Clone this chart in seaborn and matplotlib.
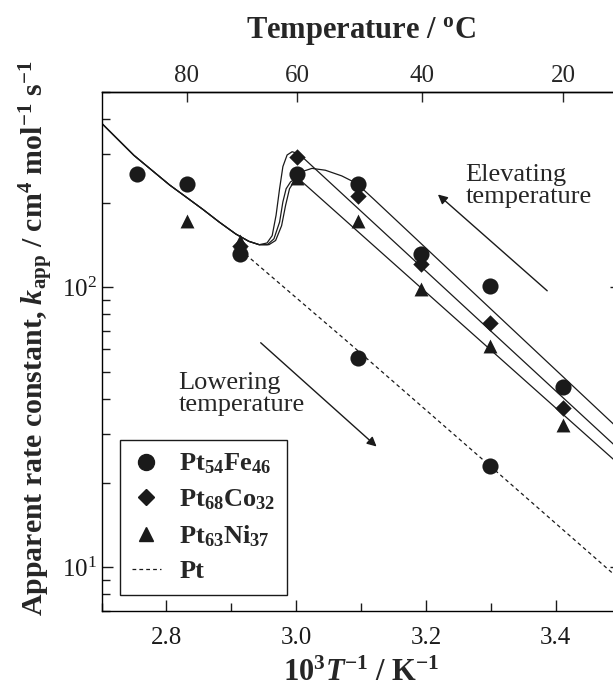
import numpy as np
import seaborn as sns
import matplotlib.pyplot as plt
from matplotlib.lines import Line2D
from matplotlib.ticker import MultipleLocator, LogLocator, LogFormatterMathtext, NullFormatter

sns.set_theme(style="ticks")
plt.rcParams['font.family'] = ['Liberation Serif', 'DejaVu Serif']
plt.rcParams['mathtext.fontset'] = 'custom'
plt.rcParams['mathtext.rm'] = 'Liberation Serif'
plt.rcParams['mathtext.it'] = 'Liberation Serif:italic'
plt.rcParams['mathtext.bf'] = 'Liberation Serif:bold'
plt.rcParams['mathtext.bfit'] = 'Liberation Serif:italic:bold'
plt.rcParams['axes.linewidth'] = 1.0
plt.rcParams['axes.edgecolor'] = 'black'

# measured points: x = 10^3/T (K^-1), k_app
fe_x = [2.754, 2.832, 2.914, 3.001, 3.095, 3.193, 3.299, 3.411, 3.095, 3.299]
fe_k = [253, 233, 131, 253, 233, 132, 101, 44.1, 56.1, 23.1]
co_x = [2.914, 3.001, 3.095, 3.193, 3.299, 3.411]
co_k = [140, 293, 212, 121, 74.4, 37.1]
ni_x = [2.832, 2.914, 3.001, 3.095, 3.193, 3.299, 3.411]
ni_k = [173, 146, 245, 173, 98.6, 61.7, 32.3]

# fitted curves
common_x = [2.70, 2.75, 2.805, 2.8305, 2.856, 2.8815, 2.907, 2.927, 2.943]
common_k = [386, 296, 232, 210, 190, 171, 155, 146, 142]
co_fit_x = common_x + [2.955, 2.963, 2.969, 2.9744, 2.9795, 2.986, 2.9937, 3.004, 3.495]
co_fit_k = common_k + [144, 153, 181, 225, 270, 297, 305, 300, 26.7]
ni_fit_x = common_x + [2.9555, 2.9657, 2.9744, 2.9795, 2.9845, 2.9913, 3.0014, 3.495]
ni_fit_k = common_k + [142, 149, 171, 202, 225, 238, 247, 23.6]
fe_fit_x = common_x + [2.958, 2.9683, 2.9775, 2.9836, 2.9897, 2.9979, 3.009, 3.0243,
                       3.0449, 3.0703, 3.0933, 3.12, 3.495]
fe_fit_k = common_k + [142, 147, 166, 196, 225, 241, 259, 266, 262, 250, 235, 206, 31.5]
pt_x = [2.914, 3.0749, 3.298, 3.495]
pt_k = [136, 65.2, 23.1, 9.2]

celsius_ticks = [80, 60, 40, 20]

fig = plt.figure(figsize=(6.13, 6.88), dpi=100)
ax = fig.add_axes([0.1656, 0.1124, 0.8469, 0.7544])

for cx, ck in [(fe_fit_x, fe_fit_k), (co_fit_x, co_fit_k), (ni_fit_x, ni_fit_k)]:
    sns.lineplot(x=cx, y=ck, ax=ax, color='k', lw=0.9, zorder=2)
sns.lineplot(x=pt_x, y=pt_k, ax=ax, color='k', lw=0.9, zorder=2)
ax.lines[-1].set_linestyle((0, (3, 2.5)))

sns.scatterplot(x=ni_x, y=ni_k, ax=ax, marker='^', s=100, color='k', linewidth=0, zorder=3)
sns.scatterplot(x=co_x, y=co_k, ax=ax, marker='D', s=70, color='k', linewidth=0, zorder=3)
sns.scatterplot(x=fe_x, y=fe_k, ax=ax, marker='o', s=135, color='k', linewidth=0, zorder=4)

ax.set_yscale('log')
ax.set_xlim(2.7, 3.5)
ax.set_ylim(7, 500)
ax.xaxis.set_major_locator(MultipleLocator(0.2))
ax.xaxis.set_minor_locator(MultipleLocator(0.1))
ax.yaxis.set_major_locator(LogLocator(base=10))
ax.yaxis.set_minor_locator(LogLocator(base=10, subs=np.arange(2, 10)))
ax.yaxis.set_major_formatter(LogFormatterMathtext())
ax.yaxis.set_minor_formatter(NullFormatter())
ax.tick_params(which='both', direction='in', top=False, right=True, width=1.0,
               labelsize=18, color='k', labelcolor='k')
ax.tick_params(which='major', length=8)
ax.tick_params(which='minor', length=6)
ax.tick_params(axis='x', pad=12)
ax.tick_params(axis='y', pad=3)

ax.set_xlabel(r'$\mathbf{10}^{\mathbf{3}}\mathbfit{T}^{\mathbf{-1}}$ / K$^{\mathbf{-1}}$',
              fontsize=22, fontweight='bold', labelpad=7)
ax.set_ylabel(r'Apparent rate constant, $\mathbfit{k}_{\mathbf{app}}$ / cm$^{\mathbf{4}}$'
              r' mol$^{\mathbf{-1}}$ s$^{\mathbf{-1}}$', fontsize=21.5, fontweight='bold')
ax.yaxis.set_label_coords(-0.088, 0.525)

sec = ax.secondary_xaxis('top', functions=(lambda x: 1000.0 / x - 273.15,
                                           lambda t: 1000.0 / (t + 273.15)))
sec.set_xticks(celsius_ticks)
sec.tick_params(direction='in', length=7, width=1.0, labelsize=18, pad=3)
sec.set_xlabel(r'Temperature / $^{\mathbf{o}}$C', fontsize=22, fontweight='bold', labelpad=20)

ax.text(3.261, 230, 'Elevating\ntemperature', fontsize=19, va='center', ha='left', linespacing=1.05)
ax.text(2.8187, 41.6, 'Lowering\ntemperature', fontsize=19, va='center', ha='left', linespacing=1.05)
arrow = dict(arrowstyle='-|>', color='k', lw=1.0, mutation_scale=14, shrinkA=0, shrinkB=0)
ax.annotate('', xy=(3.2184, 214.6), xytext=(3.3868, 97.2), arrowprops=arrow)
ax.annotate('', xy=(3.1239, 27.0), xytext=(2.9453, 63.4), arrowprops=arrow)

handles = [
    Line2D([], [], marker='o', ls='none', color='k', ms=11.5),
    Line2D([], [], marker='D', ls='none', color='k', ms=8),
    Line2D([], [], marker='^', ls='none', color='k', ms=10),
    Line2D([], [], ls=(0, (3, 2.5)), color='k', lw=0.9),
]
labels = [r'$\mathbf{Pt}_{\mathbf{54}}\mathbf{Fe}_{\mathbf{46}}$',
          r'$\mathbf{Pt}_{\mathbf{68}}\mathbf{Co}_{\mathbf{32}}$',
          r'$\mathbf{Pt}_{\mathbf{63}}\mathbf{Ni}_{\mathbf{37}}$',
          'Pt']
leg = ax.legend(handles, labels, loc='upper left', bbox_to_anchor=(0.0356, 0.329),
                borderaxespad=0, frameon=True, fancybox=False, edgecolor='k', framealpha=1,
                prop={'size': 19, 'weight': 'bold'}, handlelength=1.1, handletextpad=0.7,
                borderpad=0.45, labelspacing=0.42)
leg.get_frame().set_linewidth(1.0)

fig.savefig('out.png', dpi=100)
